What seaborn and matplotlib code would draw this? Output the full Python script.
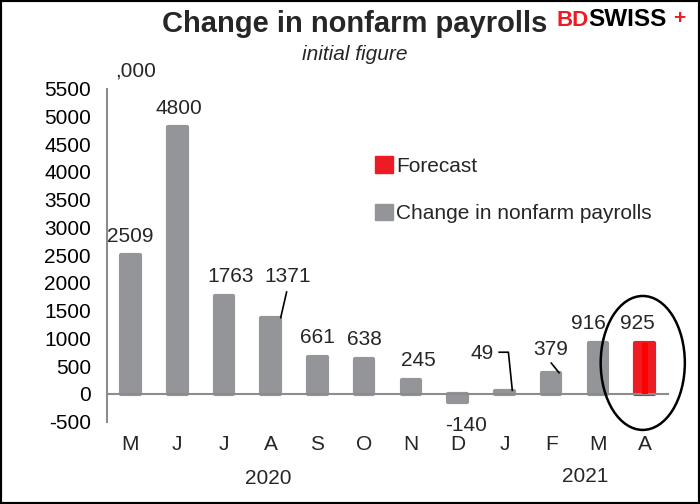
import numpy as np
import pandas as pd
import matplotlib.pyplot as plt
import matplotlib.transforms as mtransforms
import seaborn as sns
from matplotlib.patches import Ellipse, Rectangle, Patch

# データ
periods = ['2020-05', '2020-06', '2020-07', '2020-08', '2020-09', '2020-10',
           '2020-11', '2020-12', '2021-01', '2021-02', '2021-03', '2021-04']
months = ['M', 'J', 'J', 'A', 'S', 'O', 'N', 'D', 'J', 'F', 'M', 'A']
payrolls = [2509, 4800, 1763, 1371, 661, 638, 245, -140, 49, 379, 916, np.nan]
forecast = [np.nan] * 11 + [925]
years = ['2020', '2021']
yticks = list(range(-500, 6000, 500))

GREY = '#939598'
RED = '#ED1C24'

sns.set_style('white')
plt.rcParams['font.family'] = ['Liberation Sans', 'DejaVu Sans']
plt.rcParams['axes.unicode_minus'] = False

rows = []
for p, v, f in zip(periods, payrolls, forecast):
    if not np.isnan(v):
        rows.append({'period': p, 'value': v, 'series': 'Change in nonfarm payrolls'})
    if not np.isnan(f):
        rows.append({'period': p, 'value': f, 'series': 'Forecast'})
df = pd.DataFrame(rows)

fig = plt.figure(figsize=(7, 5.04), dpi=100)
ax = fig.add_axes([0.1529, 0.1633, 0.8014, 0.6611])

sns.barplot(data=df, x='period', y='value', hue='series', order=periods,
            hue_order=['Forecast', 'Change in nonfarm payrolls'],
            palette={'Forecast': RED, 'Change in nonfarm payrolls': GREY},
            dodge=False, width=0.4, saturation=1, errorbar=None,
            legend=False, ax=ax)
for p in ax.patches:
    p.set_edgecolor(p.get_facecolor())
    p.set_linewidth(3)
    p.set_joinstyle('round')

# 予測バーの内側の帯
i_fc = len(periods) - 1
ax.bar(i_fc, forecast[-1], width=0.13, color='#FF0000', edgecolor='none',
       linewidth=0, zorder=3)

ax.set_xlim(-0.5, len(periods) - 0.5)
ax.set_ylim(-500, 5500)
ax.set_yticks(yticks)
ax.set_xticks(np.arange(-0.5, len(periods), 1))
ax.set_xticklabels([])
ax.set_xlabel('')
ax.set_ylabel('')

for s in ['top', 'right']:
    ax.spines[s].set_visible(False)
ax.spines['bottom'].set_position(('data', 0))
for s in ['left', 'bottom']:
    ax.spines[s].set_color('#8C8C8C')
    ax.spines[s].set_linewidth(1.5)
ax.tick_params(axis='y', length=3.6, width=1.5, color='#8C8C8C', labelsize=15,
               labelcolor='black', pad=8)
ax.tick_params(axis='x', length=4.3, width=1.5, color='#8C8C8C', direction='out')

# 値ラベル（ポイント単位のオフセット）
offsets = {0: (0, 13), 1: (1.5, 13.5), 2: (4.5, 14), 3: (12, 30), 4: (0, 14),
           5: (0, 14), 6: (5.5, 14), 7: (6, -17), 8: (-16, 27), 9: (0, 17),
           10: (-7, 14), 11: (-5, 14)}
values = [v if not np.isnan(v) else f for v, f in zip(payrolls, forecast)]
for i, v in enumerate(values):
    dx, dy = offsets[i]
    ax.annotate(f'{int(v)}', xy=(i, v), xytext=(dx, dy), textcoords='offset points',
                ha='center', va='center', fontsize=15, zorder=6)

# 引き出し線
px = 46.7  # 1カテゴリの幅（ピクセル）
ax.annotate('', xy=(3 + 10 / px, payrolls[3]), xytext=(3 + 16 / px, payrolls[3] + 26 * 18),
            arrowprops=dict(arrowstyle='-', color='black', lw=1.2, shrinkA=0, shrinkB=0))
ax.plot([8 - 6 / px, 8 + 4 / px, 8 + 8 / px],
        [payrolls[8] + 39 * 18, payrolls[8] + 39 * 18, payrolls[8]],
        color='black', lw=1.2, zorder=6, solid_capstyle='butt')
ax.annotate('', xy=(9 + 8 / px, payrolls[9]), xytext=(9, payrolls[9] + 10 * 18),
            arrowprops=dict(arrowstyle='-', color='black', lw=1.2, shrinkA=0, shrinkB=0))

# 予測の楕円
ax.add_patch(Ellipse((10.96, 558), 1.8, 2412, fill=False, ec='black', lw=1.8,
                     clip_on=False, zorder=7))

# 月と年のラベル
trans = mtransforms.blended_transform_factory(ax.transData, fig.transFigure)
for i, m in enumerate(months):
    ax.text(i, 1 - 445 / 504, m, transform=trans, ha='center', va='center', fontsize=15)
fig.text(268 / 700, 1 - 479 / 504, years[0], ha='center', va='center', fontsize=15)
fig.text(585 / 700, 1 - 477 / 504, years[1], ha='center', va='center', fontsize=15)

# タイトル類
fig.text(355 / 700, 1 - 24 / 504, 'Change in nonfarm payrolls', ha='center', va='center',
         fontsize=21, fontweight='bold')
fig.text(355 / 700, 1 - 54 / 504, 'initial figure', ha='center', va='center',
         fontsize=15, style='italic')
fig.text(136 / 700, 1 - 71 / 504, ',000', ha='center', va='center', fontsize=15)

# ロゴ
fig.text(556 / 700, 1 - 20 / 504, 'BD', color=RED, fontsize=16, fontweight='bold',
         ha='left', va='center')
fig.text(588 / 700, 1 - 20 / 504, 'SWISS', color='black', fontsize=17.5, fontweight='bold',
         ha='left', va='center')
fig.text(679 / 700, 1 - 19 / 504, '+', color=RED, fontsize=15, fontweight='bold',
         ha='center', va='center')

# 凡例
handles = [Patch(facecolor=RED, edgecolor=RED), Patch(facecolor=GREY, edgecolor=GREY)]
fig.legend(handles, ['Forecast', 'Change in nonfarm payrolls'], loc='upper left',
           bbox_to_anchor=(375 / 700, 1 - 156 / 504), frameon=False, borderpad=0,
           borderaxespad=0, handlelength=0.85, handleheight=0.85, handletextpad=0.15,
           labelspacing=1.35, fontsize=15)

# 外枠
fig.patches.append(Rectangle((0, 0), 1, 1, transform=fig.transFigure, fill=False,
                             ec='black', lw=3))

fig.savefig('out.png', dpi=100)
